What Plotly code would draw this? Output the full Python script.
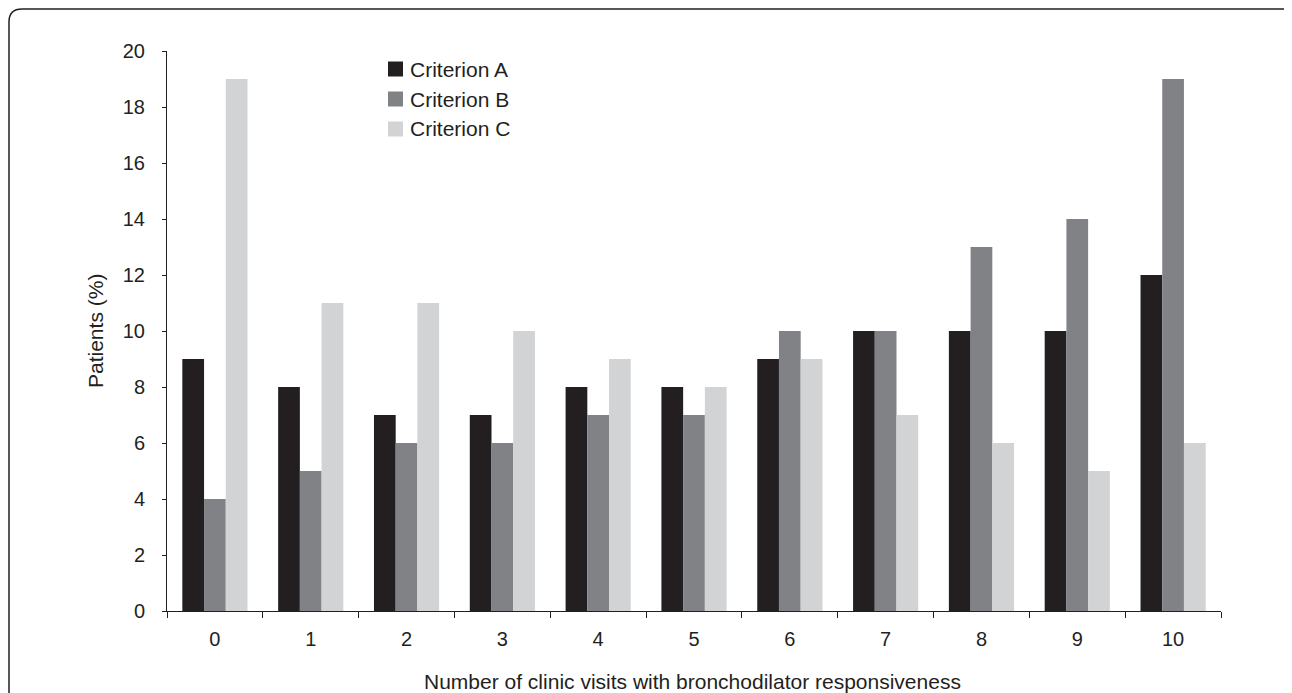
import plotly.graph_objects as go

categories = ["0", "1", "2", "3", "4", "5", "6", "7", "8", "9", "10"]
criterion_a = [9, 8, 7, 7, 8, 8, 9, 10, 10, 10, 12]
criterion_b = [4, 5, 6, 6, 7, 7, 10, 10, 13, 14, 19]
criterion_c = [19, 11, 11, 10, 9, 8, 9, 7, 6, 5, 6]
series_names = ["Criterion A", "Criterion B", "Criterion C"]
colors = ["#231f20", "#808285", "#d1d3d4"]
y_ticks = [0, 2, 4, 6, 8, 10, 12, 14, 16, 18, 20]

# page offset (browser body margin) compensation
OFF = 8
W, H = 1292 - OFF, 693 - OFF
X0, X1, Y0, Y1 = 167, 1221, 51, 611  # plot area in screen pixels
L, T = X0 - OFF, Y0 - OFF
R, B = W - (X1 - OFF), H - (Y1 - OFF)
PW, PH = X1 - X0, Y1 - Y0


def px(x):
    return (x - X0) / PW


def py(y):
    return (Y1 - y) / PH


FONT = "Liberation Sans, Arial, Helvetica, sans-serif"
TXT = "#231f20"

fig = go.Figure()
for name, vals, col in zip(series_names, [criterion_a, criterion_b, criterion_c], colors):
    fig.add_trace(go.Bar(x=categories, y=vals, name=name,
                         marker=dict(color=col, line=dict(width=0)), showlegend=False))

frame_path = (f"M {px(9)},{py(700)} L {px(9)},{py(22)} Q {px(9)},{py(9)} {px(22)},{py(9)} "
              f"L {px(1283)},{py(9)} Q {px(1289)},{py(9)} {px(1294)},{py(14)}")

shapes = [dict(type="path", xref="paper", yref="paper", path=frame_path,
               line=dict(color="#231f20", width=1.5), layer="above")]
annotations = [
    dict(text="Number of clinic visits with bronchodilator responsiveness",
         xref="paper", yref="paper", x=px(692.5), y=py(681), showarrow=False,
         xanchor="center", yanchor="middle", font=dict(size=21, color=TXT)),
    dict(text="Patients (%)", xref="paper", yref="paper", x=px(95), y=py(331),
         showarrow=False, textangle=-90, xanchor="center", yanchor="middle",
         font=dict(size=21, color=TXT)),
]

# legend drawn as keys + labels
legend_y = [69, 99, 129]
for name, col, ly in zip(series_names, colors, legend_y):
    shapes.append(dict(type="rect", xref="paper", yref="paper",
                       x0=px(388), x1=px(403), y0=py(ly + 7.5), y1=py(ly - 7.5),
                       fillcolor=col, line=dict(width=0)))
    annotations.append(dict(text=name, xref="paper", yref="paper", x=px(408), y=py(ly),
                            showarrow=False, xanchor="left", yanchor="middle",
                            font=dict(size=21, color=TXT)))

fig.update_layout(
    width=W, height=H,
    margin=dict(l=L, r=R, t=T, b=B, autoexpand=False),
    paper_bgcolor="white", plot_bgcolor="white",
    barmode="group", bargap=0.32, bargroupgap=0,
    font=dict(family=FONT, size=20, color=TXT),
    showlegend=False,
    xaxis=dict(type="category", showline=True, linecolor=TXT, linewidth=1,
               ticks="outside", tickson="boundaries", ticklen=6, tickcolor=TXT,
               showgrid=False, zeroline=False, ticklabelstandoff=10,
               tickfont=dict(size=20, color=TXT)),
    yaxis=dict(range=[0, 20], tickvals=y_ticks, showline=True, linecolor=TXT, linewidth=1,
               ticks="outside", ticklen=4, tickcolor=TXT, showgrid=False, zeroline=False,
               ticklabelstandoff=13, tickfont=dict(size=20, color=TXT)),
    shapes=shapes,
    annotations=annotations,
)

fig.write_html("out.html")
